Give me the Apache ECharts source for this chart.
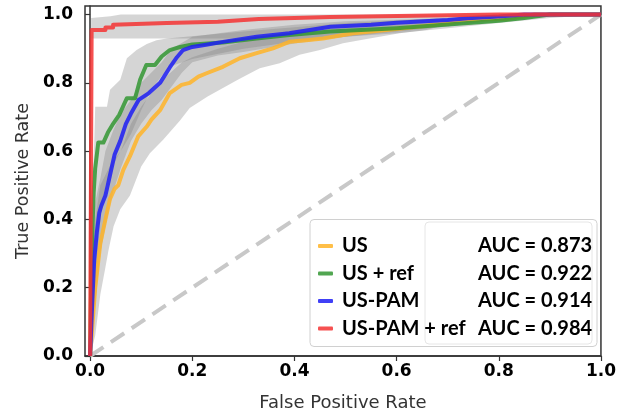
<!DOCTYPE html>
<html><head><meta charset="utf-8">
<script src="https://cdn.jsdelivr.net/npm/echarts@6/dist/echarts.min.js"></script>
<style>html,body{margin:0;padding:0;background:#fff}#c{width:619px;height:417px}</style>
</head><body><div id="c"></div>
<script>
// ---- data ----
const tickValues = [0, 0.2, 0.4, 0.6, 0.8, 1.0];
const seriesNames = ['US', 'US + ref', 'US-PAM', 'US-PAM + ref'];
const aucLabels = ['AUC = 0.873', 'AUC = 0.922', 'AUC = 0.914', 'AUC = 0.984'];
const chance = [[0, 0], [1, 1]];

const curveUS = [[0,0],[0.01,0.2],[0.02,0.33],[0.03,0.4],[0.039,0.46],[0.048,0.49],[0.055,0.5],[0.065,0.545],[0.078,0.585],[0.094,0.643],[0.111,0.672],[0.12,0.692],[0.137,0.72],[0.156,0.77],[0.179,0.794],[0.195,0.8],[0.212,0.818],[0.228,0.828],[0.26,0.847],[0.293,0.872],[0.326,0.887],[0.358,0.901],[0.39,0.92],[0.423,0.925],[0.456,0.93],[0.515,0.945],[0.58,0.955],[0.645,0.965],[0.71,0.976],[0.723,0.983],[0.82,0.988],[0.87,1.0],[1,1]];
const curveUSref = [[0,0],[0.003,0.3],[0.007,0.48],[0.01,0.55],[0.016,0.625],[0.026,0.625],[0.035,0.655],[0.045,0.68],[0.057,0.706],[0.072,0.755],[0.088,0.755],[0.098,0.81],[0.11,0.852],[0.127,0.852],[0.14,0.877],[0.156,0.896],[0.176,0.905],[0.2,0.912],[0.26,0.918],[0.326,0.93],[0.39,0.94],[0.47,0.95],[0.6,0.96],[0.74,0.975],[0.8,0.982],[0.85,0.99],[0.9,1.0],[1,1]];
const curvePAM = [[0,0],[0.004,0.15],[0.008,0.28],[0.013,0.36],[0.018,0.42],[0.022,0.44],[0.03,0.47],[0.039,0.53],[0.048,0.59],[0.059,0.63],[0.07,0.68],[0.08,0.71],[0.095,0.75],[0.115,0.77],[0.137,0.8],[0.156,0.845],[0.17,0.875],[0.182,0.896],[0.2,0.905],[0.23,0.912],[0.26,0.92],[0.326,0.935],[0.39,0.945],[0.47,0.964],[0.55,0.97],[0.6,0.976],[0.7,0.984],[0.74,0.989],[0.8,0.994],[0.85,1],[1,1]];
const curvePAMref = [[0,0],[0.003,0.955],[0.03,0.955],[0.03,0.962],[0.045,0.962],[0.045,0.97],[0.15,0.975],[0.25,0.979],[0.33,0.987],[0.47,0.993],[0.8,1.0],[1,1]];

const bandUSUpper = [[0,0],[0.005,0.3],[0.01,0.4],[0.02,0.5],[0.04,0.56],[0.06,0.6],[0.08,0.68],[0.1,0.73],[0.12,0.77],[0.15,0.82],[0.18,0.86],[0.2,0.875],[0.25,0.9],[0.3,0.92],[0.35,0.94],[0.4,0.955],[0.5,0.97],[0.6,0.975],[0.7,0.985],[0.8,0.995],[0.87,1],[1,1]];
const bandUSLower = [[0,0],[0.01,0.06],[0.02,0.18],[0.03,0.26],[0.036,0.31],[0.046,0.38],[0.059,0.43],[0.078,0.47],[0.1,0.555],[0.117,0.594],[0.143,0.633],[0.176,0.69],[0.195,0.726],[0.23,0.76],[0.26,0.785],[0.29,0.81],[0.332,0.843],[0.371,0.857],[0.41,0.882],[0.45,0.896],[0.495,0.916],[0.547,0.93],[0.606,0.945],[0.658,0.955],[0.697,0.97],[0.736,0.975],[0.775,0.984],[0.82,0.99],[0.87,1],[1,1]];
const bandUSrefUpper = [[0,0],[0.003,0.45],[0.008,0.62],[0.01,0.73],[0.033,0.73],[0.039,0.78],[0.059,0.809],[0.072,0.872],[0.091,0.896],[0.111,0.914],[0.13,0.925],[0.15,0.93],[0.3,0.95],[0.5,0.975],[0.7,0.99],[0.9,1],[1,1]];
const bandUSrefLower = [[0,0],[0.01,0.2],[0.02,0.4],[0.03,0.5],[0.045,0.56],[0.06,0.6],[0.08,0.65],[0.1,0.72],[0.12,0.78],[0.14,0.82],[0.16,0.85],[0.2,0.87],[0.3,0.9],[0.4,0.92],[0.5,0.935],[0.6,0.945],[0.7,0.96],[0.8,0.975],[0.9,0.99],[1,1]];
const bandPAMUpper = [[0,0],[0.004,0.3],[0.01,0.45],[0.02,0.52],[0.03,0.6],[0.045,0.66],[0.06,0.71],[0.08,0.75],[0.1,0.8],[0.12,0.83],[0.14,0.86],[0.16,0.9],[0.2,0.935],[0.3,0.955],[0.4,0.97],[0.5,0.98],[0.6,0.985],[0.7,0.99],[0.8,1],[1,1]];
const bandPAMLower = [[0,0],[0.01,0.15],[0.02,0.3],[0.03,0.38],[0.045,0.48],[0.06,0.55],[0.08,0.63],[0.1,0.68],[0.12,0.72],[0.14,0.75],[0.16,0.79],[0.18,0.83],[0.2,0.86],[0.25,0.88],[0.3,0.89],[0.4,0.915],[0.5,0.935],[0.6,0.95],[0.7,0.965],[0.8,0.985],[0.85,0.99],[1,1]];
const bandPAMrefUpper = [[0,0],[0.002,0.99],[0.04,0.995],[0.06,1],[1,1]];
const bandPAMrefLower = [[0,0],[0.003,0.93],[0.33,0.93],[0.4,0.95],[0.5,0.97],[0.65,0.98],[0.8,0.99],[0.9,1],[1,1]];

// ---- styles ----
const lineColors = ['rgba(255,180,40,0.85)', 'rgba(50,150,50,0.85)', 'rgba(30,30,245,0.85)', 'rgba(245,50,50,0.85)'];
const curves = [curveUS, curveUSref, curvePAM, curvePAMref];
const bands = [[bandUSUpper, bandUSLower], [bandUSrefUpper, bandUSrefLower], [bandPAMUpper, bandPAMLower], [bandPAMrefUpper, bandPAMrefLower]];

const chart = echarts.init(document.getElementById('c'), null, {renderer: 'canvas'});
const series = [];
bands.forEach((b, i) => {
  series.push({
    type: 'custom', name: 'band' + i, clip: true, z: 1, silent: true,
    data: [[0, 0]],
    renderItem: (params, api) => {
      const pts = b[0].map(p => api.coord(p)).concat(b[1].slice().reverse().map(p => api.coord(p)));
      return {type: 'polygon', shape: {points: pts}, style: {fill: 'rgba(128,128,128,0.33)', stroke: null}};
    }
  });
});
series.push({
  type: 'line', name: 'chance', data: chance, symbol: 'none', z: 2, silent: true,
  lineStyle: {color: '#c8c8c8', width: 4, type: [16, 9]}
});
curves.forEach((c, i) => {
  series.push({
    type: 'line', name: seriesNames[i], data: c, symbol: 'none', showSymbol: false, z: 3 + i,
    lineStyle: {color: lineColors[i], width: 4, join: 'round'}, itemStyle: {color: lineColors[i]}
  });
});

const axisFont = {fontFamily: 'DejaVu Sans', fontWeight: 'bold', fontSize: 17, color: '#000'};
chart.setOption({
  animation: false,
  grid: {left: 85, right: 17, top: 6, bottom: 60, show: true, borderColor: '#333', borderWidth: 1.5, backgroundColor: 'transparent'},
  xAxis: {
    type: 'value', min: -0.01, max: 1.0,
    name: 'False Positive Rate', nameLocation: 'middle', nameGap: 38,
    nameTextStyle: {fontFamily: 'DejaVu Sans', fontSize: 18, color: '#333'},
    axisLine: {show: true, lineStyle: {color: '#333', width: 1.5}},
    axisTick: {show: true, length: 5, customValues: tickValues, lineStyle: {color: '#333', width: 1.2}},
    axisLabel: Object.assign({customValues: tickValues, margin: 7, formatter: v => v.toFixed(1)}, axisFont),
    splitLine: {show: false}
  },
  yAxis: {
    type: 'value', min: 0, max: 1.025,
    name: 'True Positive Rate', nameLocation: 'middle', nameGap: 47,
    nameTextStyle: {fontFamily: 'DejaVu Sans', fontSize: 17.5, color: '#333'},
    axisLine: {show: true, lineStyle: {color: '#333', width: 1.5}},
    axisTick: {show: true, length: 5, customValues: tickValues, lineStyle: {color: '#333', width: 1.2}},
    axisLabel: Object.assign({customValues: tickValues, margin: 12, formatter: v => v.toFixed(1)}, axisFont),
    splitLine: {show: false}
  },
  legend: {
    data: seriesNames, orient: 'vertical', left: 310, top: 219, z: 10,
    backgroundColor: 'transparent', borderWidth: 0,
    padding: [17, 5, 7, 8], itemGap: 7.5, itemWidth: 15, itemHeight: 4, icon: 'roundRect',
    selectedMode: false,
    formatter: name => '{n|' + name + '}{a|' + aucLabels[seriesNames.indexOf(name)] + '}',
    textStyle: {
      fontFamily: 'Lato', fontWeight: 'bold', fontSize: 20, color: '#000',
      rich: {
        n: {fontFamily: 'Lato', fontWeight: 'bold', fontSize: 20, color: '#000', width: 136, padding: [0, 0, 0, 4]},
        a: {fontFamily: 'Lato', fontWeight: 'bold', fontSize: 20, color: '#000'}
      }
    }
  },
  graphic: [{
    type: 'rect', z: 8, silent: true,
    shape: {x: 310, y: 219.5, width: 287, height: 127, r: 4},
    style: {fill: '#fff', stroke: '#d0d0d0', lineWidth: 1}
  }, {
    type: 'rect', z: 9, silent: true,
    shape: {x: 425, y: 222, width: 167, height: 122, r: 4},
    style: {fill: '#fff', stroke: '#e6e6e6', lineWidth: 1}
  }],
  series: series
});
</script></body></html>
